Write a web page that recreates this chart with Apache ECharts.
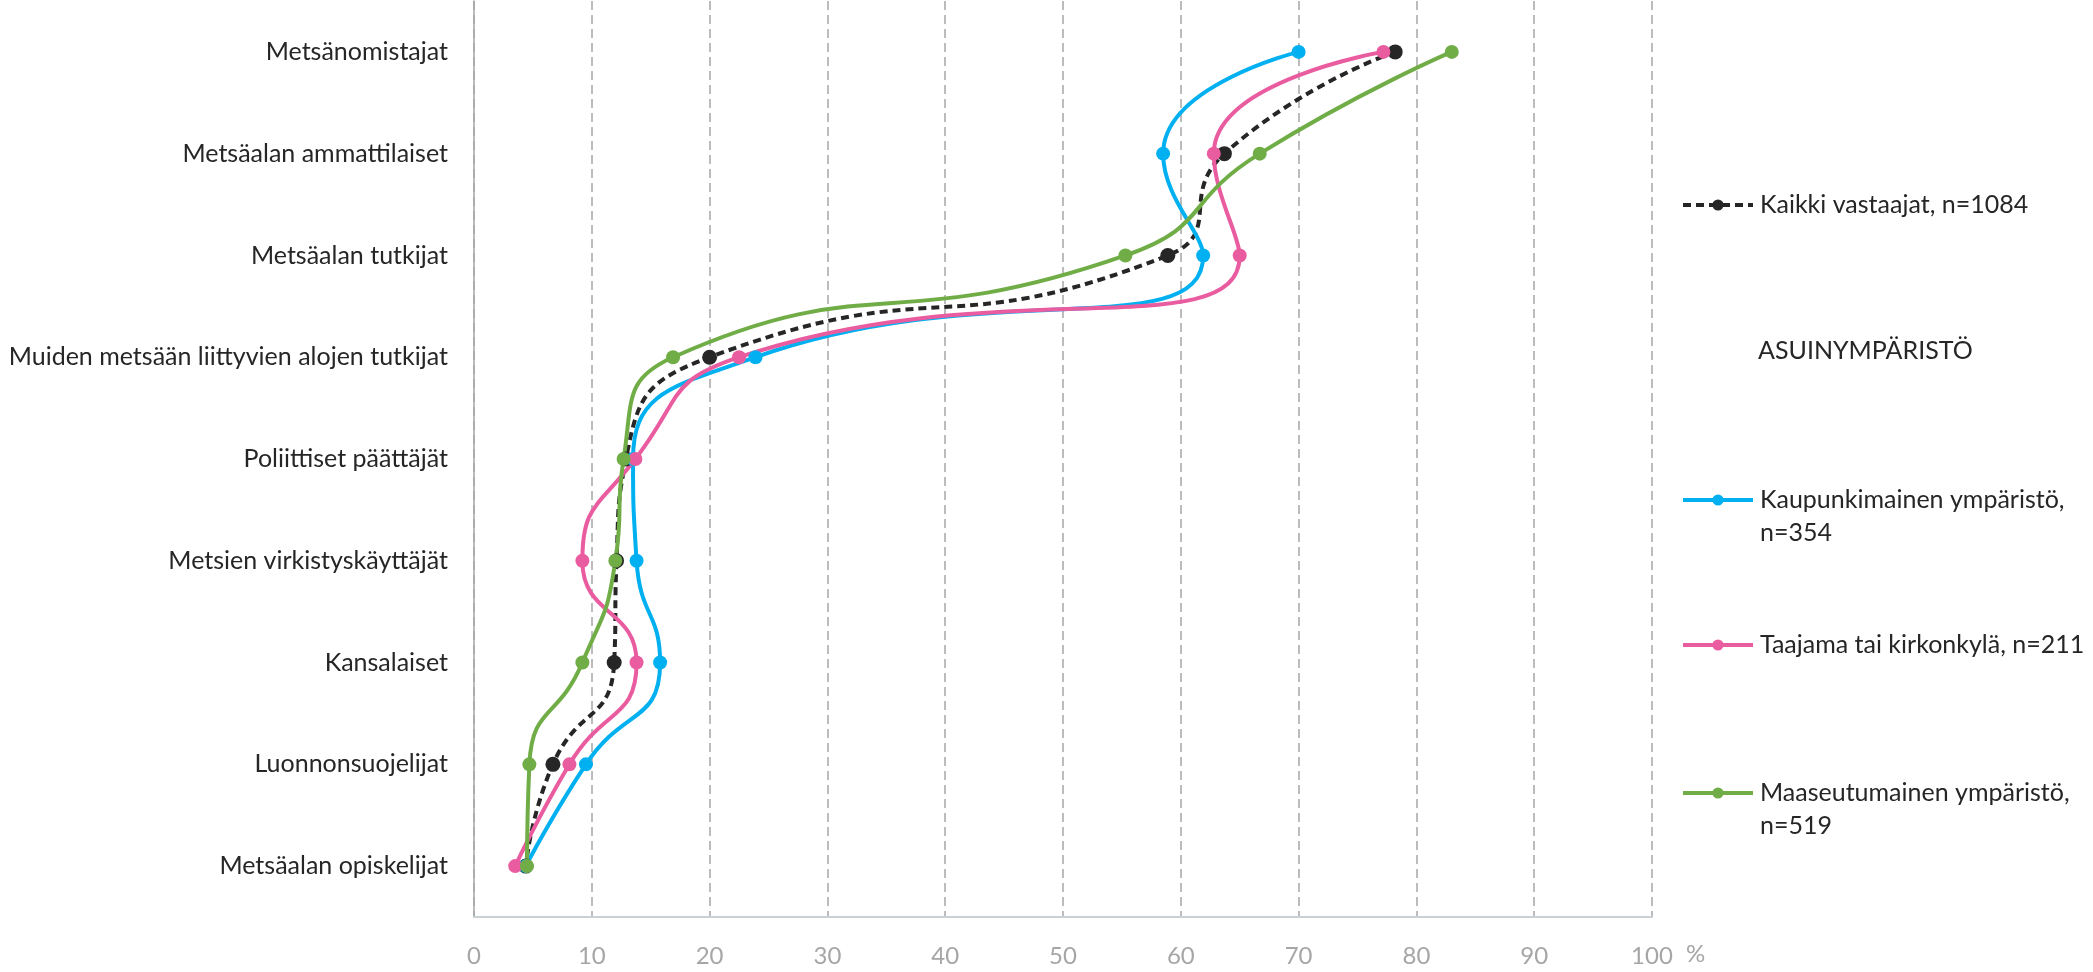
<!DOCTYPE html>
<html><head><meta charset="utf-8">
<script src="https://cdn.jsdelivr.net/npm/echarts@6/dist/echarts.min.js"></script>
<style>html,body{margin:0;padding:0;background:#fff}#c{width:2093px;height:972px}</style>
</head><body><div id="c"></div>
<script>
const categories = ['Metsänomistajat','Metsäalan ammattilaiset','Metsäalan tutkijat','Muiden metsään liittyvien alojen tutkijat','Poliittiset päättäjät','Metsien virkistyskäyttäjät','Kansalaiset','Luonnonsuojelijat','Metsäalan opiskelijat'];
const kaikki   = [78.2, 63.7, 58.9, 20.0, 12.9, 12.1, 11.9, 6.7, 4.4];
const kaupunki = [70.0, 58.5, 61.9, 23.9, 13.5, 13.8, 15.8, 9.5, 4.4];
const taajama  = [77.2, 62.8, 65.0, 22.5, 13.7, 9.2, 13.8, 8.1, 3.5];
const maaseutu = [83.0, 66.7, 55.3, 16.9, 12.7, 12.0, 9.2, 4.7, 4.5];
const xTicks = [0,10,20,30,40,50,60,70,80,90,100];
const names = ['Kaikki vastaajat, n=1084','Kaupunkimainen ympäristö,\nn=354','Taajama tai kirkonkylä, n=211','Maaseutumainen ympäristö,\nn=519'];
const groupTitle = 'ASUINYMPÄRISTÖ';

const FONT = 'Lato';
const chart = echarts.init(document.getElementById('c'));
const L = 33;
function mkSeries(name, data, color, dashed, size){
  return {name, type:'line', data, smooth:0.55, symbol:'circle', symbolSize:size,
    lineStyle:{color, width:4, type: dashed ? [8,5] : 'solid'},
    itemStyle:{color}, z: 2};
}
function mkLegend(name, c, twoLine){
  return {data:[name], left:1681, top: twoLine ? c - 1.5*L : c - L/2, padding:0,
    itemWidth:70, itemHeight:14,
    lineStyle:{width:4},
    formatter: n => twoLine ? ' \n' + n : n,
    textStyle:{fontFamily:FONT, fontSize:25, color:'#262626', lineHeight:L,
      padding:[0,0,0,2]}};
}
chart.setOption({
  animation:false,
  grid:{left:474, right:441, top:1, bottom:55},
  xAxis:{type:'value', min:0, max:100, interval:10,
    axisLine:{show:true, lineStyle:{color:'#C9D1D5', width:2}},
    axisTick:{show:false},
    axisLabel:{color:'#A6A6A6', fontFamily:FONT, fontSize:24, margin:27,
      formatter:v => xTicks.includes(v) ? String(v) : ''},
    splitLine:{show:true, lineStyle:{color:'#A6A6A6', width:1.5, type:[9,5]}}},
  yAxis:{type:'category', data:categories, inverse:true, boundaryGap:true,
    axisLine:{show:true, lineStyle:{color:'#A6A6A6', width:1.5}},
    axisTick:{show:false},
    axisLabel:{color:'#262626', fontFamily:FONT, fontSize:25, margin:26},
    splitLine:{show:false}},
  legend:[
    mkLegend(names[0], 205, false),
    mkLegend(names[1], 500, true),
    mkLegend(names[2], 645, false),
    mkLegend(names[3], 793, true)
  ],
  graphic:[
    {type:'text', left:1758, top:352-14, style:{text:groupTitle, fontFamily:FONT, fontSize:25, fill:'#262626'}},
    {type:'text', left:1686, top:942, style:{text:'%', fontFamily:FONT, fontSize:24, fill:'#A6A6A6'}}
  ],
  series:[
    mkSeries(names[0], kaikki, '#262626', true, 15),
    mkSeries(names[1], kaupunki, '#00B0F0', false, 14),
    mkSeries(names[2], taajama, '#EA5CA0', false, 14),
    mkSeries(names[3], maaseutu, '#70AD47', false, 14)
  ]
});
</script></body></html>
